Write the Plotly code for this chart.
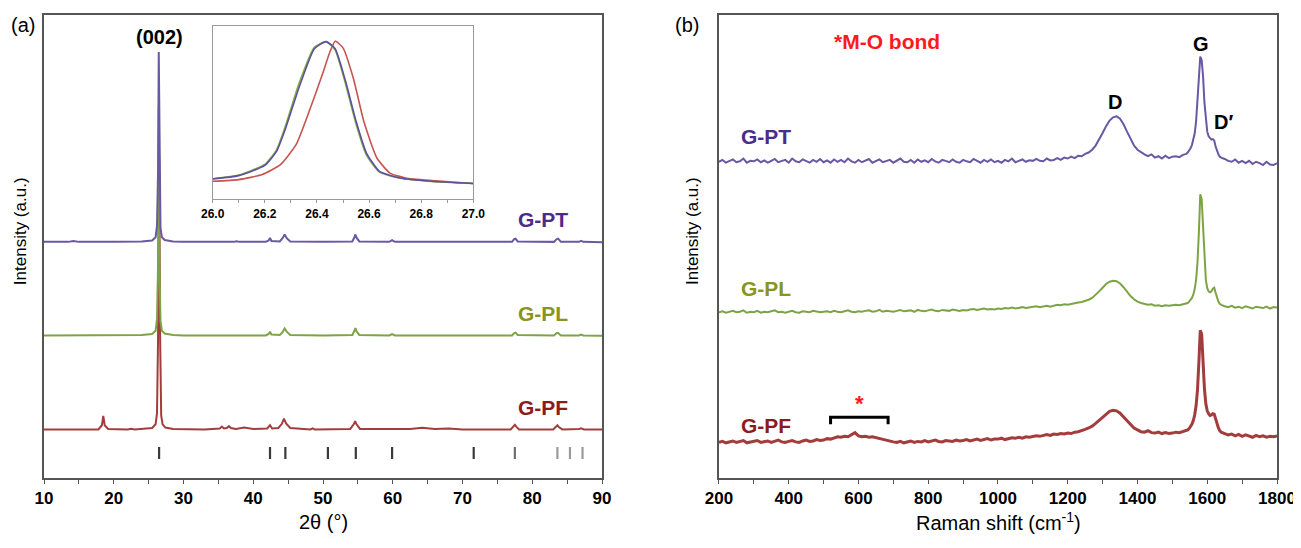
import plotly.graph_objects as go

FONT = "Liberation Sans, Arial, sans-serif"

# ---------------- (a) XRD data ----------------
pt_x = [10, 13.5, 14.2, 15, 20, 24, 25.5, 26.0, 26.2, 26.35, 26.45, 26.55, 26.7, 26.9, 27.3, 28.5, 30, 37.2, 37.6, 38,
        41.8, 42.2, 42.4, 42.6, 43.8, 44.2, 44.5, 44.8, 45.3, 50, 54.2, 54.5, 54.65, 54.8, 55.2, 59.5, 59.9, 60.3, 64, 70,
        77.1, 77.4, 77.6, 77.9, 83.1, 83.5, 83.7, 84.1, 86.7, 87.0, 87.3, 90]
pt_y = [51.0, 51.0, 51.2, 51.0, 51.0, 51.1, 51.3, 52.0, 54.5, 66, 92.0, 66, 54.0, 52.0, 51.4, 51.1, 51.0, 51.0, 51.15, 51.0,
        51.0, 51.3, 51.85, 51.2, 51.1, 51.8, 52.6, 51.8, 51.1, 51.0, 51.1, 52.0, 52.6, 51.9, 51.1, 51.0, 51.35, 51.0, 51.0, 51.0,
        51.0, 51.6, 51.7, 51.1, 51.0, 51.6, 51.7, 51.0, 51.0, 51.2, 51.0, 50.9]

pl_x = [10, 15, 20, 24, 25.5, 26.0, 26.2, 26.35, 26.45, 26.55, 26.7, 26.9, 27.3, 28.5, 30, 37.2, 37.6, 38, 41.8, 42.2,
        42.4, 42.6, 43.8, 44.2, 44.5, 44.8, 45.3, 50, 54.2, 54.5, 54.65, 54.8, 55.2, 59.5, 59.9, 60.3, 64, 70, 77.1, 77.4,
        77.6, 77.9, 83.1, 83.5, 83.7, 84.1, 86.7, 87.0, 87.3, 90]
pl_y = [30.8, 30.8, 30.8, 30.9, 31.1, 31.8, 34.3, 46, 80, 46, 33.8, 31.8, 31.2, 30.9, 30.8, 30.8, 30.95, 30.8, 30.8, 31.1,
        31.6, 31.0, 30.9, 31.5, 32.3, 31.6, 30.9, 30.8, 30.9, 31.8, 32.4, 31.7, 30.9, 30.8, 31.1, 30.8, 30.8, 30.8, 30.8, 31.3,
        31.4, 30.9, 30.8, 31.3, 31.3, 30.8, 30.8, 31.0, 30.8, 30.7]

pf_x = [10, 17.8, 18.3, 18.5, 18.7, 19.2, 22.0, 22.5, 23.0, 25.5, 26.0, 26.2, 26.35, 26.5, 26.65, 26.8, 27.0, 27.4, 28.5, 33,
        35.2, 35.5, 35.8, 36.2, 36.5, 36.8, 37.5, 38.7, 40, 42.0, 42.4, 42.7, 43.6, 44.1, 44.4, 44.7, 45.3, 48.2, 48.5, 48.8,
        53.9, 54.4, 54.6, 54.8, 55.3, 58.3, 60.0, 62.5, 64.2, 66, 68, 70, 76.9, 77.3, 77.5, 77.7, 78.1, 83.0, 83.4, 83.6,
        83.8, 84.3, 86.7, 87.0, 87.4, 90]
pf_y = [10.5, 10.5, 11.4, 13.4, 11.4, 10.6, 10.5, 10.65, 10.5, 10.8, 11.6, 14.0, 30, 70, 30, 13.5, 11.6, 10.9, 10.6, 10.5,
        10.7, 11.1, 10.7, 10.8, 11.2, 10.8, 10.6, 10.9, 10.6, 10.7, 11.4, 10.7, 10.8, 11.7, 12.8, 11.8, 10.8, 10.5, 10.7, 10.5,
        10.6, 11.6, 12.3, 11.6, 10.6, 10.65, 10.7, 10.6, 10.85, 10.6, 10.7, 10.5, 10.5, 11.1, 11.5, 11.1, 10.5, 10.5, 11.1, 11.4,
        11.0, 10.5, 10.6, 10.75, 10.5, 10.5]

# reference (stick) pattern positions, 2theta
ref_dark = [26.5, 42.4, 44.6, 50.7, 54.7, 59.9, 71.6]
ref_gray = [77.5]
ref_light = [83.6, 85.4, 87.2]
ref_low, ref_high = 4.1, 6.7

# inset (002) peak, normalised intensity
in_pt_x = [26.0, 26.1, 26.2, 26.245, 26.28, 26.33, 26.39, 26.435, 26.47, 26.51, 26.55, 26.59, 26.64, 26.72, 26.84, 27.0]
in_pt_y = [0.022, 0.046, 0.118, 0.217, 0.38, 0.66, 0.94, 0.99, 0.94, 0.71, 0.43, 0.205, 0.076, 0.029, 0.006, -0.01]
in_pl_y = [0.024, 0.05, 0.125, 0.228, 0.40, 0.69, 0.95, 0.99, 0.93, 0.69, 0.41, 0.19, 0.07, 0.027, 0.005, -0.01]
in_pf_x = [26.0, 26.1, 26.19, 26.26, 26.32, 26.37, 26.42, 26.45, 26.47, 26.50, 26.54, 26.58, 26.63, 26.68, 26.74, 26.84, 27.0]
in_pf_y = [0.006, 0.018, 0.053, 0.123, 0.264, 0.497, 0.754, 0.918, 0.993, 0.946, 0.73, 0.427, 0.17, 0.064, 0.029, 0.011, -0.01]

# ---------------- (b) Raman data ----------------
raman_x = list(range(200, 1541, 10)) + list(range(1544, 1641, 4)) + list(range(1650, 1801, 10))

raman_pt = [
    68.3, 68.7, 68.1, 68.5, 68.8, 68.2, 68.4, 69.0, 68.1, 68.5,
    68.4, 68.8, 68.2, 68.6, 68.1, 68.5, 68.9, 68.2, 68.4, 68.7,
    68.1, 69.0, 68.4, 68.2, 68.8, 68.5, 68.1, 68.7, 68.3, 68.9,
    68.2, 68.6, 68.1, 68.8, 68.3, 68.7, 68.2, 69.0, 68.4, 68.1,
    68.7, 68.2, 68.5, 68.9, 68.1, 68.4, 68.8, 68.2, 68.5, 68.7,
    68.1, 68.5, 69.0, 68.3, 68.2, 68.7, 68.1, 68.8, 68.3, 68.6,
    68.2, 68.9, 68.4, 68.1, 68.7, 68.5, 68.2, 68.8, 68.3, 68.1,
    68.7, 68.4, 68.2, 68.9, 68.5, 68.1, 68.7, 68.3, 68.8, 68.2,
    68.5, 68.1, 68.7, 68.4, 69.0, 68.2, 68.5, 68.8, 68.3, 68.6,
    68.5, 68.9, 68.5, 68.4, 69.0, 68.6, 68.7, 69.1, 68.7, 69.2,
    69.0, 69.4, 69.1, 69.6, 69.5, 70.0, 70.3, 70.9, 71.8, 73.0,
    74.5, 76.0, 77.2, 77.9, 78.1, 77.6, 76.4, 74.8, 73.1, 71.8,
    70.9, 70.3, 69.9, 69.5, 69.9, 69.2, 69.5, 69.0, 69.6, 69.1,
    69.4, 69.5, 69.3, 69.8, 70.0,
    70.3, 70.7, 71.2, 71.9, 72.9, 74.4, 77.0, 81.0, 86.5, 91.0, 90.3, 86.8, 81.0,
    77.0, 74.8, 73.8, 73.3, 73.1, 73.2, 72.9, 71.6, 70.6, 69.9, 69.4, 69.2,
    68.9, 68.5, 68.3, 68.8, 68.1, 68.5, 68.0, 68.5, 67.8, 68.3, 68.0, 67.6, 68.3, 67.7, 67.6, 68.0]

raman_pl = [
    35.8, 36.0, 35.7, 35.9, 36.1, 35.8, 35.9, 36.2, 35.7, 35.9,
    35.8, 36.1, 35.7, 35.9, 35.8, 36.0, 36.2, 35.8, 35.9, 35.7,
    35.9, 36.1, 35.8, 35.7, 36.0, 35.9, 35.8, 36.1, 35.9, 35.8,
    35.9, 36.0, 35.8, 36.1, 35.9, 35.8, 36.0, 36.2, 35.9, 35.8,
    36.0, 35.9, 36.1, 36.2, 35.9, 36.0, 36.3, 35.9, 36.1, 36.0,
    35.9, 36.1, 36.3, 36.0, 36.1, 36.2, 35.9, 36.3, 36.1, 36.0,
    36.2, 36.4, 36.1, 36.0, 36.3, 36.2, 36.1, 36.4, 36.2, 36.1,
    36.3, 36.2, 36.4, 36.5, 36.3, 36.4, 36.6, 36.4, 36.5, 36.4,
    36.6, 36.5, 36.7, 36.6, 36.8, 36.6, 36.7, 36.9, 36.7, 36.8,
    36.9, 37.1, 36.9, 37.0, 37.2, 37.0, 37.2, 37.4, 37.3, 37.5,
    37.4, 37.6, 37.7, 37.9, 38.0, 38.2, 38.5, 38.9, 39.5, 40.3,
    41.1, 41.9, 42.4, 42.6, 42.5, 42.0, 41.2, 40.2, 39.3, 38.6,
    38.1, 37.8, 37.6, 37.4, 37.5, 37.2, 37.3, 37.1, 37.3, 37.2,
    37.3, 37.4, 37.3, 37.5, 37.6,
    37.8, 38.1, 38.4, 38.9, 39.6, 40.8, 42.8, 46.5, 53.0, 61.3, 60.2, 53.5, 46.5,
    42.8, 41.0, 40.3, 40.1, 40.3, 40.9, 41.1, 40.0, 38.8, 38.1, 37.6, 37.4,
    37.1, 36.9, 37.2, 36.8, 37.0, 36.7, 37.1, 36.9, 36.6, 37.0, 36.8, 36.7, 37.0, 36.6, 36.9, 36.8]

raman_pf = [
    7.7, 7.9, 7.6, 7.8, 8.0, 7.7, 7.9, 8.1, 7.6, 7.8,
    7.9, 8.1, 7.7, 7.8, 8.0, 7.7, 7.9, 8.2, 7.8, 7.7,
    7.9, 8.1, 7.8, 7.7, 8.0, 8.2, 7.9, 8.0, 8.3, 8.1,
    8.2, 8.5, 8.4, 8.7, 8.9, 8.8, 9.0, 8.9, 9.3, 9.8,
    9.1, 8.9, 9.0, 8.8, 8.9, 8.7, 8.6, 8.4, 8.2, 8.0,
    7.8, 7.7, 7.9, 7.6, 7.8, 8.0, 7.7, 7.9, 7.8, 8.1,
    7.8, 8.0, 8.2, 7.9, 7.8, 8.1, 8.0, 7.9, 8.2, 8.0,
    8.1, 8.3, 8.0, 8.2, 8.4, 8.1, 8.3, 8.5, 8.2, 8.4,
    8.4, 8.6, 8.3, 8.5, 8.7, 8.6, 8.8, 8.6, 8.9, 8.8,
    8.9, 9.1, 9.0, 9.2, 9.4, 9.2, 9.5, 9.4, 9.6, 9.5,
    9.7, 9.6, 9.9, 10.0, 10.2, 10.5, 10.8, 11.2, 11.8, 12.5,
    13.2, 13.9, 14.4, 14.6, 14.5, 14.0, 13.2, 12.3, 11.5, 10.8,
    10.4, 10.0, 9.9, 10.2, 9.8, 9.7, 9.9, 9.6, 9.8, 9.6,
    9.7, 9.9, 9.8, 10.0, 10.2,
    10.4, 10.7, 11.1, 11.6, 12.4, 13.6, 15.6, 19.0, 25.0, 31.9, 31.1, 24.8, 19.2,
    16.0, 14.5, 13.9, 13.5, 13.6, 13.9, 13.8, 12.8, 11.6, 10.8, 10.2, 9.9,
    9.6, 9.3, 9.5, 9.1, 9.4, 9.0, 9.3, 9.1, 8.8, 9.2, 8.9, 9.1, 8.8, 9.0, 8.9, 9.1]

assert len(raman_pt) == len(raman_x) == len(raman_pl) == len(raman_pf)

mo_band = [520, 685]   # cm-1 range marked as M-O bond

# colours
C_PT, C_PL, C_PF = "#6A58A3", "#7DA444", "#A33C3C"
T_PT, T_PL, T_PF = "#4B2B8C", "#8A9420", "#8C1C1C"
I_PT, I_PL, I_PF = "#5E4FA2", "#7FB040", "#C65450"

fig = go.Figure()

# ---- panel (a)
fig.add_trace(go.Scatter(x=pf_x, y=pf_y, mode="lines", line=dict(color=C_PF, width=2), xaxis="x", yaxis="y"))
fig.add_trace(go.Scatter(x=pl_x, y=pl_y, mode="lines", line=dict(color=C_PL, width=2), xaxis="x", yaxis="y"))
fig.add_trace(go.Scatter(x=pt_x, y=pt_y, mode="lines", line=dict(color=C_PT, width=2), xaxis="x", yaxis="y"))


def sticks(pos):
    xs, ys = [], []
    for p in pos:
        xs += [p, p, None]
        ys += [ref_low, ref_high, None]
    return xs, ys


for pos, col in [(ref_dark, "#3a3a3a"), (ref_gray, "#6e6e6e"), (ref_light, "#9a9a9a")]:
    sx, sy = sticks(pos)
    fig.add_trace(go.Scatter(x=sx, y=sy, mode="lines", line=dict(color=col, width=2.2), xaxis="x", yaxis="y"))

# ---- inset
fig.add_trace(go.Scatter(x=in_pf_x, y=in_pf_y, mode="lines", line=dict(color=I_PF, width=1.6, shape="spline", smoothing=0.5),
                         xaxis="x3", yaxis="y3"))
fig.add_trace(go.Scatter(x=in_pt_x, y=in_pl_y, mode="lines", line=dict(color=I_PL, width=1.6, shape="spline", smoothing=0.5),
                         xaxis="x3", yaxis="y3"))
fig.add_trace(go.Scatter(x=in_pt_x, y=in_pt_y, mode="lines", line=dict(color=I_PT, width=1.6, shape="spline", smoothing=0.5),
                         xaxis="x3", yaxis="y3"))

# ---- panel (b)
fig.add_trace(go.Scatter(x=raman_x, y=raman_pt, mode="lines", line=dict(color=C_PT, width=2), xaxis="x2", yaxis="y2"))
fig.add_trace(go.Scatter(x=raman_x, y=raman_pl, mode="lines", line=dict(color=C_PL, width=2), xaxis="x2", yaxis="y2"))
fig.add_trace(go.Scatter(x=raman_x, y=raman_pf, mode="lines", line=dict(color=C_PF, width=3), xaxis="x2", yaxis="y2"))

frame = "#555555"
tickfont = dict(family=FONT, size=17, color="black", weight="bold")
base_x = dict(showline=True, mirror=True, linecolor=frame, linewidth=1.5, showgrid=False, zeroline=False,
              ticks="outside", ticklen=4, tickwidth=1.2, tickcolor=frame, tickfont=tickfont,
              ticklabeloverflow="allow")
base_y = dict(range=[0, 100], showline=True, mirror=True, linecolor=frame, linewidth=1.5, showgrid=False,
              zeroline=False, ticks="", showticklabels=False)

# the page body has an 8 px margin: figure placed so the plot boxes land where the reference has them
fig.update_layout(
    width=1293, height=532,
    margin=dict(l=36, r=22, t=5, b=62),
    paper_bgcolor="white", plot_bgcolor="white", showlegend=False,
    xaxis=dict(base_x, domain=[0, 0.4526], range=[10, 90], tick0=10, dtick=10, anchor="y",
               minor=dict(dtick=5, ticks="outside", ticklen=4, tickcolor=frame)),
    yaxis=dict(base_y, domain=[0, 1], anchor="x"),
    xaxis2=dict(base_x, domain=[0.5474, 1], range=[200, 1800], tick0=200, dtick=200, anchor="y2",
                minor=dict(dtick=100, ticks="outside", ticklen=4, tickcolor=frame)),
    yaxis2=dict(base_y, domain=[0, 1], anchor="x2"),
    xaxis3=dict(domain=[0.1368, 0.3482], range=[26, 27], tick0=26, dtick=0.2, tickformat=".1f", anchor="y3",
                showline=True, mirror=True, linecolor="#999999", linewidth=1, showgrid=False, zeroline=False,
                ticks="outside", ticklen=3, tickcolor="#999999",
                minor=dict(dtick=0.1, ticks="outside", ticklen=3, tickcolor="#999999"),
                tickfont=dict(family=FONT, size=12, color="black", weight="bold")),
    yaxis3=dict(domain=[0.6022, 0.9763], range=[-0.12, 1.1], anchor="x3", showline=True, mirror=True,
                linecolor="#999999", linewidth=1, showgrid=False, zeroline=False, ticks="", showticklabels=False),
)

ann = []


def lab(text, x, y, xref, yref, size, color="black", bold=True, **kw):
    t = f"<b>{text}</b>" if bold else text
    ann.append(dict(text=t, x=x, y=y, xref=xref, yref=yref, showarrow=False, xanchor="center", yanchor="middle",
                    font=dict(family=FONT, size=size, color=color), **kw))


# panel labels and axis titles
lab("(a)", -0.0170, 0.9785, "paper", "paper", 20, bold=False)
lab("(b)", 0.5215, 0.9785, "paper", "paper", 20, bold=False)
lab("Intensity (a.u.)", -0.0194, 0.5333, "paper", "paper", 17, bold=False, textangle=-90)
lab("Intensity (a.u.)", 0.5255, 0.5333, "paper", "paper", 17, bold=False, textangle=-90)
lab("2θ (°)", 0.2267, -0.0946, "paper", "paper", 20, bold=False)
lab("Raman shift (cm<sup>-1</sup>)", 0.774, -0.0946, "paper", "paper", 20, bold=False)

# panel (a) text
lab("(002)", 26.6, 95.3, "x", "y", 20)
lab("G-PT", 81.6, 55.9, "x", "y", 21, T_PT)
lab("G-PL", 81.6, 35.5, "x", "y", 21, T_PL)
lab("G-PF", 81.6, 15.3, "x", "y", 21, T_PF)

# panel (b) text
lab("G-PT", 335, 73.8, "x2", "y2", 21, T_PT)
lab("G-PL", 335, 40.9, "x2", "y2", 21, T_PL)
lab("G-PF", 335, 11.4, "x2", "y2", 21, T_PF)
lab("G", 1581, 93.8, "x2", "y2", 20)
lab("D", 1336, 81.3, "x2", "y2", 20)
lab("D′", 1647, 76.8, "x2", "y2", 20)
lab("*M-O bond", 681, 94.2, "x2", "y2", 21, "#FF1A1A")
lab("*", sum(mo_band) / 2, 16.1, "x2", "y2", 22, "#FF1A1A")
fig.update_layout(annotations=ann)

# bracket over the M-O band
bx0, bx1 = mo_band
fig.add_shape(type="path", xref="x2", yref="y2",
              path=f"M {bx0},11.6 L {bx0},13.1 L {bx1},13.1 L {bx1},11.6",
              line=dict(color="black", width=3))

fig.write_html("out.html")
